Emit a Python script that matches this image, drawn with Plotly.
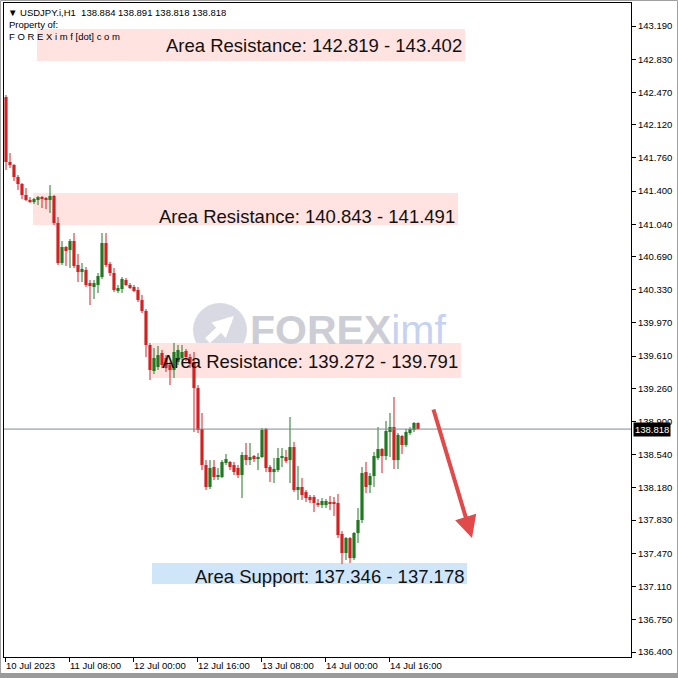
import plotly.graph_objects as go

# ---------------- data ----------------
opens = [142.420,141.715,141.682,141.552,141.476,141.357,141.303,141.281,141.303,141.335,
         141.324,141.303,141.346,141.053,140.619,140.793,140.760,140.858,140.598,140.522,
         140.543,140.402,140.359,140.381,140.467,140.836,140.608,140.511,140.316,140.337,
         140.435,140.381,140.359,140.326,140.218,140.099,139.730,139.448,139.491,139.643,
         139.589,139.513,139.459,139.545,139.589,139.665,139.600,139.545,139.263,138.819,
         138.428,138.190,138.407,138.298,138.298,138.450,138.461,138.428,138.396,138.320,
         138.537,138.482,138.526,138.504,138.515,138.819,138.407,138.352,138.374,138.504,
         138.515,138.482,138.623,138.157,138.190,138.135,138.081,138.081,138.016,137.994,
         137.994,138.027,138.027,138.016,137.680,137.474,137.636,137.419,137.691,137.832,
         138.352,138.211,138.309,138.504,138.602,138.526,138.786,138.840,138.482,138.743,
         138.645,138.775,138.808,138.884]
highs = [142.442,141.812,141.693,141.574,141.487,141.433,141.335,141.324,141.346,141.346,
         141.335,141.465,141.357,141.118,140.858,140.804,140.880,140.945,140.717,140.619,
         140.576,140.435,140.435,140.511,140.945,140.945,140.630,140.565,140.381,140.467,
         140.457,140.402,140.381,140.359,140.272,140.120,139.752,139.697,139.719,139.676,
         139.621,139.545,139.752,139.730,139.730,139.686,139.632,139.654,139.296,138.992,
         138.482,138.482,138.482,138.396,138.482,138.548,138.472,138.461,138.428,138.569,
         138.667,138.667,138.537,138.558,138.830,138.830,138.428,138.504,138.613,138.613,
         138.591,138.949,138.678,138.417,138.287,138.157,138.103,138.103,138.059,138.070,
         138.059,138.092,138.081,138.114,137.712,137.647,137.647,137.701,137.962,138.407,
         138.461,138.341,138.569,138.840,138.613,138.905,138.992,139.166,138.775,138.754,
         138.819,138.840,138.895,138.891]
lows = [141.628,141.650,141.509,141.411,141.313,141.292,141.270,141.259,141.248,141.216,
        141.205,141.162,141.031,140.598,140.598,140.587,140.565,140.565,140.413,140.413,
        140.359,140.164,140.229,140.294,140.446,140.576,140.478,140.305,140.294,140.294,
        140.370,140.337,140.305,140.196,140.077,139.600,139.350,139.415,139.459,139.480,
        139.437,139.296,139.372,139.513,139.567,139.556,139.480,138.786,138.775,138.374,
        138.157,138.168,138.265,138.265,138.287,138.428,138.374,138.320,138.287,138.070,
        138.428,138.428,138.461,138.374,138.504,138.352,138.244,138.233,138.352,138.407,
        138.450,138.233,138.135,138.049,138.049,138.027,138.016,137.918,137.973,137.962,
        137.962,137.940,137.875,137.636,137.354,137.398,137.365,137.398,137.582,137.799,
        138.124,138.124,138.190,138.482,138.341,138.482,138.515,138.385,138.385,138.548,
        138.623,138.754,138.786,138.818]
closes = [141.715,141.682,141.552,141.476,141.357,141.303,141.281,141.313,141.335,141.313,
          141.313,141.346,141.053,140.619,140.793,140.749,140.858,140.587,140.522,140.554,
          140.381,140.370,140.402,140.478,140.836,140.598,140.511,140.326,140.348,140.446,
          140.381,140.348,140.316,140.218,140.099,139.730,139.459,139.589,139.621,139.513,
          139.480,139.459,139.654,139.676,139.654,139.600,139.524,139.263,138.808,138.428,
          138.190,138.396,138.298,138.320,138.461,138.493,138.407,138.352,138.320,138.537,
          138.482,138.515,138.493,138.515,138.808,138.396,138.352,138.385,138.504,138.526,
          138.472,138.623,138.157,138.190,138.103,138.070,138.049,138.016,137.994,138.038,
          138.038,138.016,138.016,137.669,137.474,137.636,137.419,137.691,137.832,138.341,
          138.190,138.309,138.526,138.602,138.526,138.797,138.840,138.482,138.754,138.645,
          138.786,138.819,138.884,138.818]

x_tick_pos = [-0.25, 15.75, 31.75, 47.75, 63.75, 79.75, 95.75]
x_tick_labels = ["10 Jul 2023", "11 Jul 08:00", "12 Jul 00:00", "12 Jul 16:00",
                 "13 Jul 08:00", "14 Jul 00:00", "14 Jul 16:00"]
y_tick_vals = [143.190, 142.830, 142.470, 142.120, 141.760, 141.400, 141.040, 140.690,
               140.330, 139.970, 139.610, 139.260, 138.900, 138.540, 138.180, 137.830,
               137.470, 137.110, 136.750, 136.400]

zone_labels = ["Area Resistance: 142.819 - 143.402", "Area Resistance: 140.843 - 141.491",
               "Area Resistance: 139.272 - 139.791", "Area Support: 137.346 - 137.178"]
zone_x0 = [7.75, 6.75, 36.5, 36.5]
zone_x1 = [114.75, 113.0, 113.75, 115.25]
zone_low = [142.810, 141.031, 139.372, 137.137]
zone_high = [143.157, 141.378, 139.752, 137.365]
zone_label_y = [142.984, 141.140, 139.567, 137.235]
zone_kind = ["res", "res", "res", "sup"]

last_price = 138.818
arrow_from = (106.75, 139.047)
arrow_to = (116.5, 137.636)

# ---------------- styling ----------------
BULL = "#1E7B1E"
BEAR = "#D42020"
ZONE_FILL = {"res": "#FFE3E0", "sup": "#CFE5F8"}
FONT = "Liberation Sans"

W, H = 678, 678
ML, MR, MT, MB = 4, 47, 3, 21
PW, PH = W - ML - MR, H - MT - MB


def pxx(xp):
    return (xp - ML) / PW


def pxy(yp):
    return (H - MB - yp) / PH


idx = list(range(len(opens)))
bull = [i for i in idx if closes[i] >= opens[i]]
bear = [i for i in idx if closes[i] < opens[i]]

fig = go.Figure()


def wick_trace(ids, color):
    xs, ys = [], []
    for i in ids:
        xs += [i, i, None]
        ys += [lows[i], highs[i], None]
    return go.Scatter(x=xs, y=ys, mode="lines", line=dict(color=color, width=1),
                      hoverinfo="skip", showlegend=False)


def body_trace(ids, color):
    return go.Bar(x=ids,
                  y=[max(abs(closes[i] - opens[i]), 0.006) for i in ids],
                  base=[min(opens[i], closes[i]) for i in ids],
                  width=0.8, marker=dict(color=color, line=dict(width=0)),
                  showlegend=False, hoverinfo="skip")


fig.add_trace(wick_trace(bull, BULL))
fig.add_trace(wick_trace(bear, BEAR))
fig.add_trace(body_trace(bull, BULL))
fig.add_trace(body_trace(bear, BEAR))

shapes = []
annotations = []

# zones
for lab, x0, x1, lo, hi, ly, k in zip(zone_labels, zone_x0, zone_x1, zone_low, zone_high,
                                      zone_label_y, zone_kind):
    shapes.append(dict(type="rect", xref="x", yref="y", x0=x0, x1=x1, y0=lo, y1=hi,
                       fillcolor=ZONE_FILL[k], line=dict(width=0), layer="below"))
    annotations.append(dict(x=x1, y=ly, xref="x", yref="y", text=lab,
                            showarrow=False, xanchor="right", yanchor="middle", xshift=-1,
                            yshift=-1,
                            font=dict(family=FONT, size=18.5, color="#111111")))

# watermark logo
shapes.append(dict(type="circle", xref="paper", yref="paper",
                   x0=pxx(193), x1=pxx(247), y0=pxy(357), y1=pxy(303),
                   fillcolor="#D9D9E3", line=dict(width=0), layer="below"))
shapes.append(dict(type="path", xref="paper", yref="paper",
                   path=f"M {pxx(200)} {pxy(345)} Q {pxx(220)} {pxy(362)} {pxx(240)} {pxy(345)} L {pxx(238)} {pxy(352)} Q {pxx(220)} {pxy(364)} {pxx(202)} {pxy(352)} Z",
                   fillcolor="#CBC5F0", line=dict(width=0), layer="below"))
annotations.append(dict(x=pxx(234), y=pxy(316), ax=-28, ay=26, xref="paper", yref="paper",
                        axref="pixel", ayref="pixel", text="", showarrow=True, arrowhead=2,
                        arrowsize=0.6, arrowwidth=7, arrowcolor="white"))
annotations.append(dict(x=pxx(248), y=pxy(330), xref="paper", yref="paper",
                        text="<b>FOREX</b><span style='color:#C6D2EF'>imf</span>",
                        showarrow=False, xanchor="left", yanchor="middle",
                        font=dict(family=FONT, size=41, color="#CDCDD6")))

# current price line and label
shapes.append(dict(type="line", xref="x domain", yref="y", x0=0, x1=1, y0=last_price, y1=last_price,
                   line=dict(color="#7D8A8E", width=1)))
annotations.append(dict(x=1, y=last_price, xref="paper", yref="y", text="138.818",
                        showarrow=False, xanchor="left", yanchor="middle", xshift=2,
                        bgcolor="#000000", borderpad=1,
                        font=dict(family=FONT, size=9.5, color="white")))

# red forecast arrow
annotations.append(dict(x=arrow_to[0], y=arrow_to[1], ax=arrow_from[0], ay=arrow_from[1],
                        xref="x", yref="y", axref="x", ayref="y", text="", showarrow=True,
                        arrowhead=2, arrowsize=1.1, arrowwidth=4, arrowcolor="#E04A4A"))

# header texts
annotations.append(dict(x=pxx(6), y=pxy(12), xref="paper", yref="paper",
                        text="\u25BC USDJPY.i,H1  138.884 138.891 138.818 138.818",
                        showarrow=False, xanchor="left", yanchor="middle",
                        font=dict(family=FONT, size=9.5, color="#000000")))
annotations.append(dict(x=pxx(7), y=pxy(24), xref="paper", yref="paper", text="Property of:",
                        showarrow=False, xanchor="left", yanchor="middle",
                        font=dict(family=FONT, size=9.5, color="#000000")))
annotations.append(dict(x=pxx(7), y=pxy(37), xref="paper", yref="paper",
                        text="F O R E X i m f [dot] c o m",
                        showarrow=False, xanchor="left", yanchor="middle",
                        font=dict(family=FONT, size=9.5, color="#000000")))

# window frame
shapes.append(dict(type="rect", xref="paper", yref="paper",
                   x0=pxx(0.5), x1=pxx(677.5), y0=pxy(677.5), y1=pxy(0.5),
                   line=dict(color="#A0A0A0", width=1)))
shapes.append(dict(type="rect", xref="paper", yref="paper",
                   x0=pxx(0), x1=pxx(678), y0=pxy(678), y1=pxy(673),
                   fillcolor="#9A9A9A", line=dict(width=0)))

fig.update_layout(
    width=W, height=H, margin=dict(l=ML, r=MR, t=MT, b=MB, pad=0),
    paper_bgcolor="white", plot_bgcolor="white",
    barmode="overlay", showlegend=False, hovermode=False,
    shapes=shapes, annotations=annotations,
    xaxis=dict(range=[-0.5, 156.25], showgrid=False, zeroline=False,
               tickmode="array", tickvals=x_tick_pos, ticktext=x_tick_labels,
               ticks="outside", ticklen=4, tickcolor="#000", ticklabelposition="outside right",
               showline=True, linecolor="#000", linewidth=1, mirror=True,
               tickfont=dict(family=FONT, size=9.5, color="#000")),
    yaxis=dict(range=[136.3458, 143.4395], side="right", showgrid=False, zeroline=False,
               tickmode="array", tickvals=y_tick_vals, ticktext=[f"{v:.3f}" for v in y_tick_vals],
               ticks="outside", ticklen=4, tickcolor="#000",
               showline=True, linecolor="#000", linewidth=1, mirror=True,
               tickfont=dict(family=FONT, size=9.5, color="#000")),
)

fig.write_html("out.html", config={"displayModeBar": False},
               post_script="document.body.style.margin='0';document.body.style.overflow='hidden';")
